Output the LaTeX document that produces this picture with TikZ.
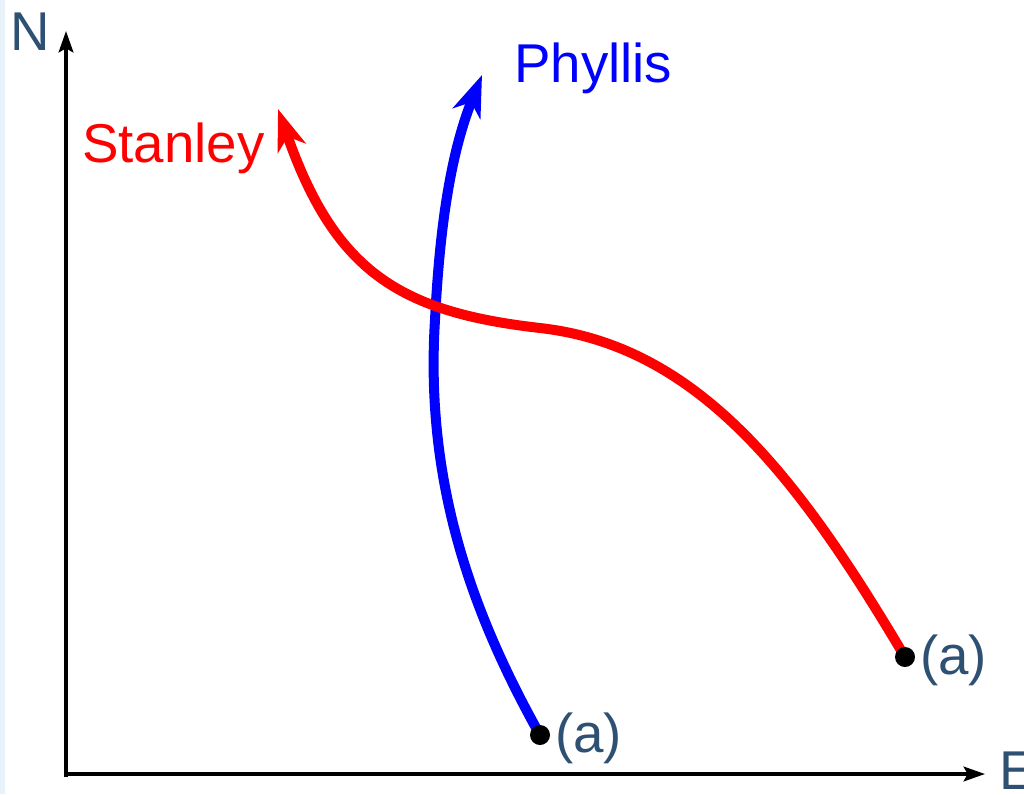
\documentclass[tikz,border=0pt]{standalone}
\usepackage{fontspec}
\setmainfont{Liberation Sans}
\usetikzlibrary{arrows.meta}
\definecolor{lab}{RGB}{45,80,115}
\definecolor{strip}{RGB}{232,242,250}
\definecolor{rpath}{RGB}{255,0,0}
\definecolor{bpath}{RGB}{0,0,255}
\tikzset{
  axis/.style={line width=2.7pt,-{Stealth[length=16pt,width=11pt,inset=3pt]}},
  route/.style={line width=7.5pt,-{Stealth[length=31pt,width=22pt,inset=9pt]}},
  txt/.style={inner sep=0pt,anchor=base west,font=\fontsize{41}{47}\selectfont},
  dot/.style={circle,fill=black,inner sep=0pt,minimum size=15pt}
}
\begin{document}
\begin{tikzpicture}[x=0.75pt,y=-0.75pt]
\useasboundingbox (0,0) rectangle (1024,794);
\fill[strip] (0,0) rectangle (5,794);
\coordinate (corner) at (66,777);
\coordinate (hstart) at (64.6,774);
\coordinate (Ntip) at (66,31);
\coordinate (Etip) at (985,774);
\draw[axis] (corner) -- (Ntip);
\draw[axis] (hstart) -- (Etip);
\node[txt,text=lab] (N) at (10,50) {N};
\node[txt,text=lab] (E) at (999,789) {E};
\coordinate (rs) at (905,657);
\coordinate (bs) at (540,735);
\coordinate (rtip) at (278,109);
\coordinate (btip) at (482,75);
\draw[route,draw=bpath] (bs) .. controls (470,610) and (425,480) .. (435,320) .. controls (440,220) and (452,150) .. (btip);
\draw[route,draw=rpath] (rs) .. controls (800,480) and (700,346) .. (540,328) .. controls (400,312) and (335,272) .. (rtip);
\node[dot] (rstart) at (rs) {};
\node[dot] (bstart) at (bs) {};
\node[txt,text=lab] (ra) at (920,674) {(a)};
\node[txt,text=lab] (ba) at (555,752) {(a)};
\node[txt,text=rpath] (stanley) at (82,162) {Stanley};
\node[txt,text=bpath] (phyllis) at (514,82) {Phyllis};
\end{tikzpicture}
\end{document}
